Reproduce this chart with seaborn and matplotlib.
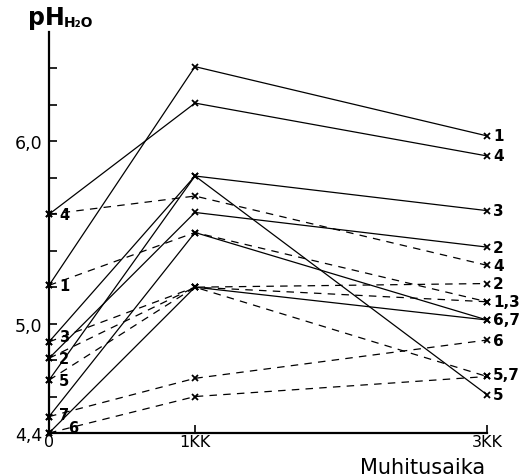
import numpy as np
import pandas as pd
import matplotlib
matplotlib.use('Agg')
import matplotlib.pyplot as plt
import seaborn as sns

# Muhitusaika (kk) ja pH-arvot
aika = [0, 1, 3]
aika_labels = ['0', '1KK', '3KK']

# yhtenaiset viivat
sarjat_yht = ['1', '4', '3', '2', '5', '7', '6']
ph_yht = [
    [5.21, 6.41, 6.03],
    [5.60, 6.21, 5.92],
    [4.90, 5.81, 5.62],
    [4.81, 5.61, 5.42],
    [4.69, 5.81, 4.61],
    [4.49, 5.50, 5.02],
    [4.40, 5.20, 5.02],
]

# katkoviivat
sarjat_katk = ['4', '1', '3', '2', '5', '7', '6']
ph_katk = [
    [5.60, 5.70, 5.32],
    [5.21, 5.50, 5.12],
    [4.90, 5.20, 5.12],
    [4.81, 5.20, 5.22],
    [4.69, 5.20, 4.71],
    [4.49, 4.70, 4.91],
    [4.40, 4.60, 4.71],
]

# numerot vasemmalla ja oikealla
vasen_txt = ['4', '1', '3', '2', '5', '7', '6']
vasen_y = [5.60, 5.21, 4.93, 4.81, 4.69, 4.50, 4.43]
vasen_x = [0.07, 0.07, 0.07, 0.07, 0.07, 0.07, 0.13]
oikea_txt = ['1', '4', '3', '2', '4', '2', '1,3', '6,7', '6', '5,7', '5']
oikea_y = [6.03, 5.92, 5.62, 5.42, 5.32, 5.22, 5.12, 5.02, 4.91, 4.72, 4.61]

y_ticks = [4.4, 4.6, 4.8, 5.0, 5.2, 5.4, 5.6, 5.8, 6.0, 6.2, 6.4]
y_labels = {4.4: '4,4', 5.0: '5,0', 6.0: '6,0'}

rows = []
for tapa, nimet, arvot in [('yht', sarjat_yht, ph_yht), ('katk', sarjat_katk, ph_katk)]:
    for nimi, vals in zip(nimet, arvot):
        for t, v in zip(aika, vals):
            rows.append({'kk': t, 'ph': v, 'sarja': tapa + nimi, 'tapa': tapa})
df = pd.DataFrame(rows)

sns.set_style('ticks')
plt.rcParams['font.family'] = ['DejaVu Sans']
plt.rcParams['text.color'] = 'black'
plt.rcParams['xtick.color'] = 'black'
plt.rcParams['ytick.color'] = 'black'
plt.rcParams['axes.edgecolor'] = 'black'

fig = plt.figure(figsize=(5.29, 4.77), dpi=100)
ax = fig.add_axes([49 / 529, 1 - 434 / 477, 438 / 529, 401 / 477])

sns.lineplot(data=df, x='kk', y='ph', units='sarja', estimator=None,
             style='tapa', dashes={'yht': '', 'katk': (6, 5)},
             markers={'yht': 'x', 'katk': 'x'}, color='black',
             lw=0.9, ms=5, mew=1.3, mec='black', legend=False, ax=ax)
for line in ax.lines:
    line.set_clip_on(False)

ax.set_xlim(0, 3)
ax.set_ylim(4.4, 6.6)
ax.set_yticks(y_ticks)
ax.set_yticklabels([y_labels.get(round(v, 1), '') for v in y_ticks], fontsize=12.5)
ax.set_xticks(aika)
ax.set_xticklabels(aika_labels, fontsize=11.5)
ax.tick_params(axis='y', direction='in', length=6, width=1.2, pad=5)
ax.tick_params(axis='x', direction='in', length=6, width=1.2, pad=1)
ax.xaxis.get_major_ticks()[0].tick1line.set_visible(False)
ax.set_xlabel('')
ax.set_ylabel('')
sns.despine(ax=ax)
for s in ['left', 'bottom']:
    ax.spines[s].set_linewidth(1.6)

for t, x, y in zip(vasen_txt, vasen_x, vasen_y):
    ax.text(x, y, t, fontsize=10.5, fontweight='bold', va='center', ha='left')
for t, y in zip(oikea_txt, oikea_y):
    ax.text(3.04, y, t, fontsize=11, fontweight='bold', va='center', ha='left',
            clip_on=False)

fig.text(28 / 529, 1 - 18 / 477, 'pH', fontsize=17, fontweight='bold', va='center')
fig.text(64 / 529, 1 - 23 / 477, 'H₂O', fontsize=10, fontweight='bold', va='center')
fig.text(360 / 529, 1 - 474 / 477, 'Muhitusaika', fontsize=15, va='baseline')

fig.savefig('out.png', dpi=100, facecolor='white')
